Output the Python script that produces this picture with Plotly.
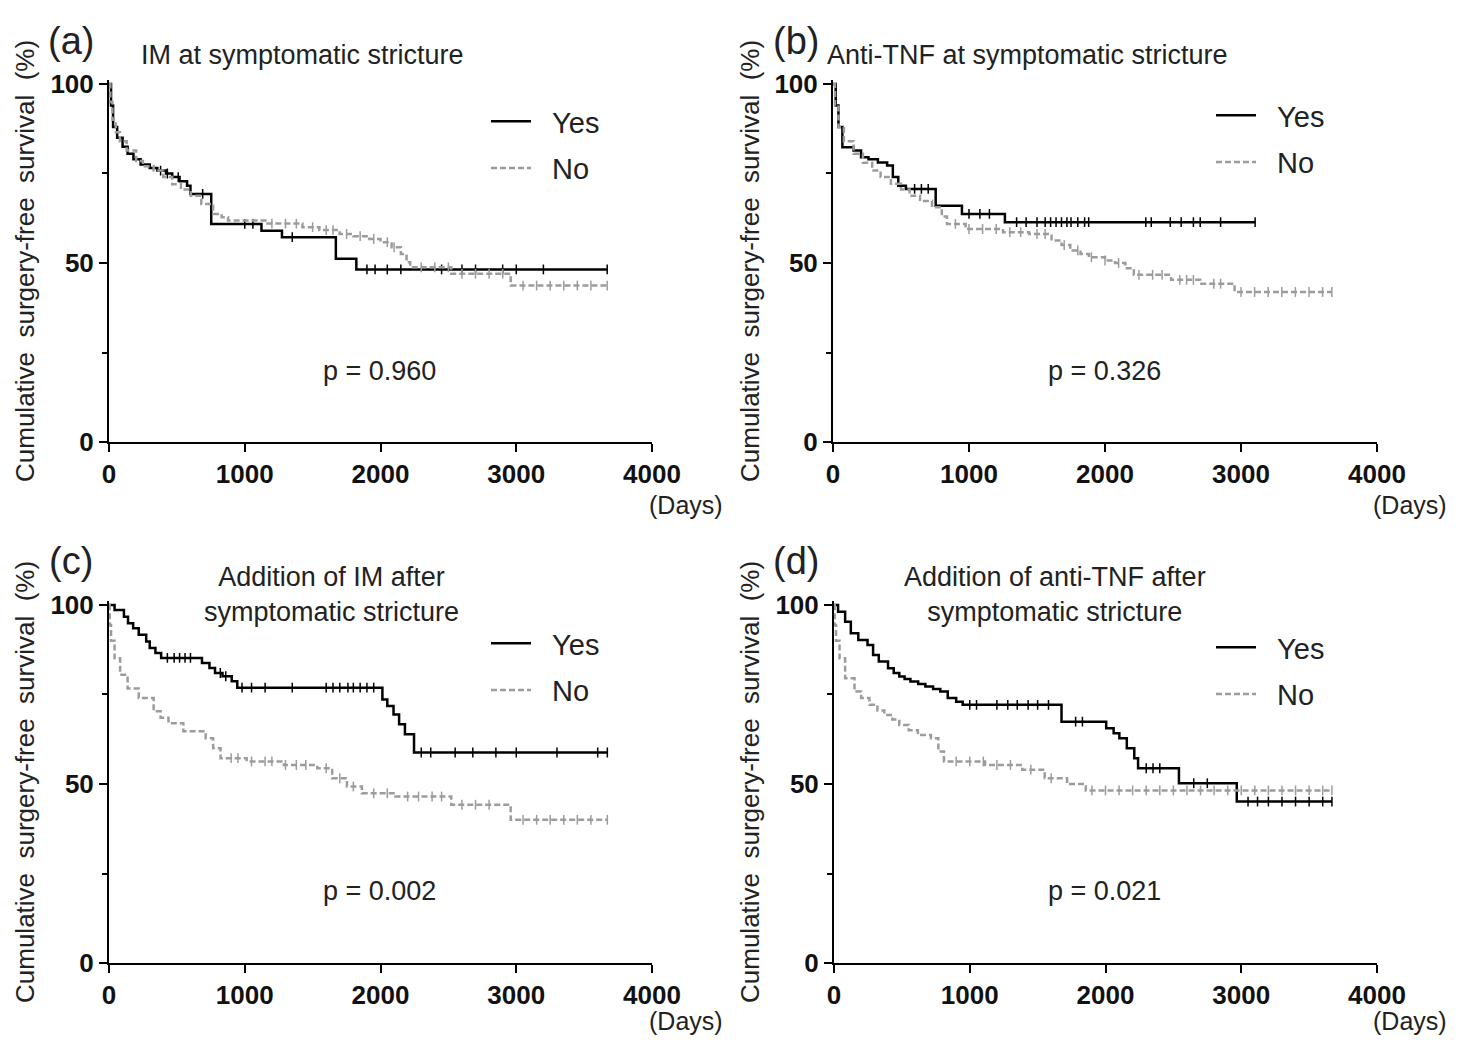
import numpy as np
import plotly.graph_objects as go

# ---------------- data ----------------
# Panel (a) IM at symptomatic stricture
a_yes_t = [15, 30, 60, 100, 137, 180, 233, 300, 356, 420, 466, 520, 575, 600, 753, 1123, 1274, 1671, 1822]
a_yes_s = [94, 88, 85, 82.5, 80.5, 79, 77.5, 76.5, 75.8, 75, 74, 72.8, 71.6, 69.3, 60.9, 59, 57.2, 51.2, 48.2]
a_yes_end = 3670
a_yes_c = [380, 430, 510, 690, 1000, 1060, 1350, 1900, 1960, 2050, 2150, 2450, 2600, 2700, 2900, 3000, 3200, 3670]

a_no_t = [10, 25, 50, 80, 130, 200, 250, 329, 400, 466, 530, 603, 680, 767, 830, 877, 1151, 1425, 1550, 1699,
          1800, 1918, 2000, 2082, 2150, 2192, 2219, 2521, 2959]
a_no_s = [95, 90, 86.5, 84, 81.4, 78.5, 77, 75.8, 74, 72, 70.5, 68.8, 66.5, 63.7, 62.8, 61.9, 61, 60, 59.2, 58.1,
          57.5, 56.7, 55.8, 54.4, 52.5, 50.2, 48.8, 47, 43.7]
a_no_end = 3670
a_no_c = [1200, 1300, 1380, 1500, 1600, 1650, 1750, 1850, 1950, 2050, 2100, 2300, 2400, 2500, 2600, 2700, 2800,
          2900, 3050, 3150, 3250, 3350, 3450, 3550, 3670]

# Panel (b) Anti-TNF at symptomatic stricture
b_yes_t = [20, 40, 69, 151, 206, 261, 330, 398, 440, 480, 536, 755, 948, 1264]
b_yes_s = [94, 88, 82.3, 81.4, 79.5, 79, 78.1, 77.2, 74, 71.6, 70.7, 66, 63.7, 61.4]
b_yes_end = 3104
b_yes_c = [600, 650, 700, 1000, 1080, 1150, 1350, 1420, 1500, 1560, 1600, 1640, 1680, 1720, 1750, 1800, 1850,
           1880, 2300, 2340, 2480, 2560, 2650, 2700, 2850, 3104]

b_no_t = [15, 40, 80, 151, 220, 288, 350, 426, 500, 563, 640, 728, 800, 838, 975, 1250, 1442, 1607, 1680, 1745,
          1820, 1882, 2000, 2074, 2150, 2212, 2486, 2700, 2953]
b_no_s = [94, 88, 84, 80.5, 78, 75.8, 74, 72.1, 70.5, 68.8, 67.3, 65.6, 63, 60.9, 59.5, 58.6, 58.1, 56.3, 55, 53.5,
          52.5, 51.6, 50.7, 50, 48.5, 46.7, 45.3, 44.2, 41.9]
b_no_end = 3668
b_no_c = [900, 1000, 1100, 1200, 1300, 1380, 1500, 1560, 1700, 1800, 1900, 2000, 2100, 2250, 2350, 2420, 2550,
          2600, 2650, 2800, 2850, 3000, 3100, 3200, 3300, 3400, 3500, 3600, 3668]

# Panel (c) Addition of IM after symptomatic stricture
c_yes_t = [41, 110, 140, 178, 219, 274, 300, 342, 384, 685, 740, 781, 836, 904, 945, 2014, 2050, 2096, 2137,
           2180, 2247]
c_yes_s = [98.6, 96.7, 94.9, 93.5, 91.7, 89.8, 88, 86.6, 85.2, 83.8, 82.4, 81, 80.1, 78.7, 76.9, 73.6, 71.8, 69.4,
           66.7, 63.9, 58.8]
c_yes_end = 3671
c_yes_c = [430, 480, 520, 560, 600, 820, 860, 980, 1050, 1150, 1350, 1600, 1650, 1700, 1760, 1800, 1850, 1900,
           1950, 2300, 2370, 2550, 2680, 2850, 3000, 3300, 3600, 3671]

c_no_t = [5, 15, 41, 82, 137, 219, 329, 380, 438, 548, 712, 767, 822, 1014, 1288, 1534, 1644, 1753, 1863, 2110,
          2521, 2959]
c_no_s = [94.4, 90, 85.1, 80.5, 76.7, 74, 70.3, 68.5, 67, 64.7, 62.8, 60, 57.2, 56.3, 55.3, 54.4, 51.6, 49.3, 47.4,
          46.5, 44.2, 40]
c_no_end = 3671
c_no_c = [900, 950, 1050, 1150, 1200, 1300, 1380, 1450, 1600, 1700, 1800, 1950, 2050, 2200, 2280, 2380, 2450,
          2600, 2700, 2800, 3050, 3150, 3250, 3350, 3450, 3550, 3671]

# Panel (d) Addition of anti-TNF after symptomatic stricture
d_yes_t = [30, 82, 124, 179, 247, 288, 330, 398, 440, 481, 520, 563, 620, 673, 730, 783, 838, 900, 948, 1676,
           2005, 2060, 2102, 2157, 2212, 2240, 2541, 2967]
d_yes_s = [98.1, 95.3, 92.1, 90.2, 88.8, 86, 84.2, 82.3, 81, 80, 79.3, 78.6, 77.9, 77.2, 76.5, 75.8, 74, 73, 72.1,
           67.4, 65.6, 64.2, 62.8, 60, 57.2, 54.4, 50.2, 45.1]
d_yes_end = 3668
d_yes_c = [1000, 1050, 1200, 1280, 1350, 1430, 1500, 1580, 1780, 1830, 2300, 2350, 2400, 2650, 2750, 3050, 3120,
           3200, 3300, 3400, 3500, 3600, 3668]

d_no_t = [5, 15, 41, 82, 151, 200, 261, 320, 371, 430, 481, 550, 618, 714, 769, 810, 1113, 1387, 1552, 1717, 1855]
d_no_s = [94.4, 90, 85.1, 79.5, 75.8, 74, 72.1, 70.5, 69.3, 68, 66.5, 65, 63.7, 62.8, 59.1, 56.3, 55.3, 54, 51.6,
          50, 48.2]
d_no_end = 3668
d_no_c = [900, 1000, 1100, 1200, 1300, 1450, 1600, 1900, 2000, 2100, 2200, 2300, 2400, 2500, 2600, 2700, 2800,
          2900, 3000, 3100, 3200, 3300, 3400, 3500, 3600, 3668]

panel_letters = ["(a)", "(b)", "(c)", "(d)"]
panel_titles = ["IM at symptomatic stricture", "Anti-TNF at symptomatic stricture",
                "Addition of IM after<br>symptomatic stricture",
                "Addition of anti-TNF after<br>symptomatic stricture"]
p_values = ["p = 0.960", "p = 0.326", "p = 0.002", "p = 0.021"]
x_ticks = [0, 1000, 2000, 3000, 4000]
y_ticks = [0, 50, 100]
series_names = ["Yes", "No"]
y_title = "Cumulative&nbsp; surgery-free&nbsp; survival&nbsp; (%)"
x_unit = "(Days)"

panels = [
    ((a_yes_t, a_yes_s, a_yes_end, a_yes_c), (a_no_t, a_no_s, a_no_end, a_no_c)),
    ((b_yes_t, b_yes_s, b_yes_end, b_yes_c), (b_no_t, b_no_s, b_no_end, b_no_c)),
    ((c_yes_t, c_yes_s, c_yes_end, c_yes_c), (c_no_t, c_no_s, c_no_end, c_no_c)),
    ((d_yes_t, d_yes_s, d_yes_end, d_yes_c), (d_no_t, d_no_s, d_no_end, d_no_c)),
]

# ---------------- layout helpers ----------------
# the page has an 8 px body margin, so the figure is 16 px smaller than the window
OFF = 8
W, H = 1468 - 2 * OFF, 1044 - 2 * OFF
FONT = "Liberation Sans, Arial, sans-serif"


def px(x):
    """window pixel column -> paper x"""
    return (x - OFF) / W


def py(y):
    """window pixel row -> paper y"""
    return 1 - (y - OFF) / H


# plot-area pixel boxes in window coords (left, right, top(=101 %), bottom(=0 %))
boxes = [(109, 652, 80.4, 442), (833, 1377, 80.4, 442), (109, 652, 601.4, 963), (834, 1377, 601.4, 963)]
line_colors = ["black", "#9c9c9c"]
dashes = ["solid", "6px,3px"]

# text centres in window coords
letter_pos = [(71, 41), (796, 41), (71, 561), (796, 561)]
title_pos = [(302, 55), (1027, 55), (331, 594), (1055, 594)]
p_pos = [(380, 371), (1104, 371), (380, 891), (1104, 891)]
days_pos = [(686, 505), (1410, 505), (686, 1021), (1410, 1021)]
ytitle_pos = [(25, 261), (750, 261), (25, 782), (750, 782)]
legend_pos = [(486, 96), (1211, 90), (486, 618), (1211, 622)]

fig = go.Figure()


def step_value(t, s, x):
    t = np.asarray(t, float)
    s = np.asarray(s, float)
    idx = np.searchsorted(t, np.asarray(x, float), side="right") - 1
    return np.where(idx < 0, 100.0, s[np.clip(idx, 0, None)])


for i, (yes, no) in enumerate(panels):
    xa = "x" if i == 0 else f"x{i + 1}"
    ya = "y" if i == 0 else f"y{i + 1}"
    leg = "legend" if i == 0 else f"legend{i + 1}"
    for j, (t, s, end, cens) in enumerate([yes, no]):
        xs = [0] + list(t) + [end]
        ys = [100] + list(s) + [s[-1]]
        fig.add_trace(go.Scatter(
            x=xs, y=ys, mode="lines", line_shape="hv", xaxis=xa, yaxis=ya,
            line=dict(color=line_colors[j], width=2.5, dash=dashes[j]),
            name="&nbsp;&nbsp;" + series_names[j], legend=leg, legendgroup=f"{i}{j}", showlegend=True))
        fig.add_trace(go.Scatter(
            x=cens, y=step_value(t, s, cens), mode="markers", xaxis=xa, yaxis=ya,
            marker=dict(symbol="line-ns", size=7, line=dict(color=line_colors[j], width=1.5)),
            showlegend=False, hoverinfo="skip"))

layout = dict(
    width=W, height=H, margin=dict(l=0, r=0, t=0, b=0, autoexpand=False),
    paper_bgcolor="white", plot_bgcolor="white",
    font=dict(family=FONT, color="#222"), annotations=[],
)

axis_common = dict(showline=True, linecolor="black", linewidth=2, ticks="outside", ticklen=8, tickwidth=2,
                   tickcolor="black", showgrid=False, zeroline=False, automargin=False,
                   tickfont=dict(family=FONT, size=26, color="#111", weight="bold"))


def txt(text, pos, size, **kw):
    d = dict(text=text, x=px(pos[0]), y=py(pos[1]), xref="paper", yref="paper", showarrow=False,
             xanchor="center", yanchor="middle", font=dict(family=FONT, size=size, color="#222"))
    d.update(kw)
    return d


for i, (l, r, t, b) in enumerate(boxes):
    xk = "xaxis" if i == 0 else f"xaxis{i + 1}"
    yk = "yaxis" if i == 0 else f"yaxis{i + 1}"
    ya = "y" if i == 0 else f"y{i + 1}"
    xa = "x" if i == 0 else f"x{i + 1}"
    layout[xk] = dict(axis_common, domain=[px(l), px(r)], range=[0, 4000], tickvals=x_ticks, anchor=ya)
    layout[yk] = dict(axis_common, domain=[py(b), py(t)], range=[0, 101], tickvals=y_ticks, anchor=xa,
                      ticklabelstandoff=0,
                      minor=dict(tickvals=[25, 75], ticks="outside", ticklen=5, tickwidth=2, tickcolor="black"))
    lk = "legend" if i == 0 else f"legend{i + 1}"
    layout[lk] = dict(x=px(legend_pos[i][0]), y=py(legend_pos[i][1]), xanchor="left", yanchor="top",
                      bgcolor="rgba(0,0,0,0)", font=dict(family=FONT, size=29, color="#222"),
                      tracegroupgap=6, itemwidth=40)
    ann = layout["annotations"]
    ann.append(txt(panel_letters[i], letter_pos[i], 38))
    ann.append(txt(panel_titles[i], title_pos[i], 27))
    ann.append(txt(p_values[i], p_pos[i], 27))
    ann.append(txt(y_title, ytitle_pos[i], 26, textangle=-90))
    ann.append(txt(x_unit, days_pos[i], 25))

fig.update_layout(**layout)
fig.write_html("out.html")
